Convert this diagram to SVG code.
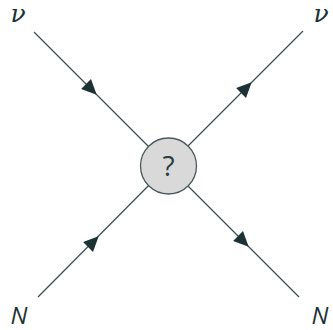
<svg xmlns="http://www.w3.org/2000/svg" width="333" height="330" viewBox="0 0 333 330">
<style>
.ln{stroke:#3e5254;stroke-width:1.3;fill:none}
.ah{fill:#1d3235}
.lbl{font-family:"Open Sans","Noto Sans",sans-serif;font-style:italic;fill:#1d3235}
.nu{font-family:"DejaVu Serif",serif;font-style:italic;fill:#1d3235}
</style>
<defs>
<polygon id="arr" points="8,0 -7,-7 -7,7"/>
</defs>
<rect width="333" height="330" fill="#ffffff"/>
<g id="connectors">
<line class="ln" x1="34" y1="32" x2="168" y2="166"/>
<line class="ln" x1="303" y1="31" x2="168" y2="166"/>
<line class="ln" x1="38" y1="297" x2="168" y2="166"/>
<line class="ln" x1="299" y1="297" x2="168" y2="166"/>
<use href="#arr" class="ah" transform="translate(91,89) rotate(45)"/>
<use href="#arr" class="ah" transform="translate(246,88) rotate(-45)"/>
<use href="#arr" class="ah" transform="translate(93,242) rotate(-45)"/>
<use href="#arr" class="ah" transform="translate(243,241) rotate(45)"/>
</g>
<g id="blob">
<circle cx="168.5" cy="166" r="28" fill="#d9d9d9" stroke="#4a5a5c" stroke-width="1.3"/>
<text x="168.5" y="176" text-anchor="middle" font-family="'Open Sans','Noto Sans',sans-serif" font-size="28" fill="#2a3c3e">?</text>
</g>
<g id="nu-in"><text class="nu" x="18" y="22" text-anchor="middle" font-size="25">ν</text></g>
<g id="nu-out"><text class="nu" x="321" y="22" text-anchor="middle" font-size="25">ν</text></g>
<g id="N-in"><text class="lbl" x="19" y="324" text-anchor="middle" font-size="24">N</text></g>
<g id="N-out"><text class="lbl" x="320" y="324" text-anchor="middle" font-size="24">N</text></g>
</svg>
